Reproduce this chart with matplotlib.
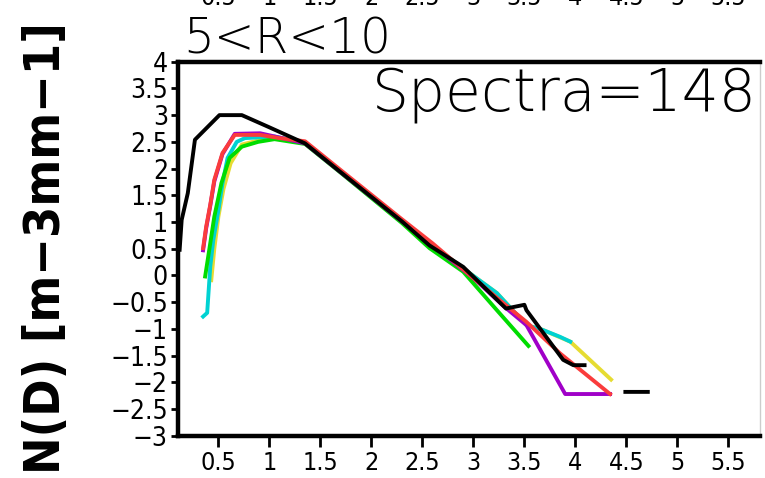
import matplotlib
matplotlib.use("Agg")
import matplotlib.pyplot as plt
from matplotlib import font_manager as fm
from matplotlib.font_manager import FontProperties

nan = float("nan")

# ---------------- data ----------------
title_text = "5<R<10"
count_text = "Spectra=148"
ylabel_text = "N(D) [m\u22123mm\u22121]"

xticks = [0.5, 1, 1.5, 2, 2.5, 3, 3.5, 4, 4.5, 5, 5.5]
xtick_labels = ["0.5", "1", "1.5", "2", "2.5", "3", "3.5", "4", "4.5", "5", "5.5"]
yticks = [4, 3.5, 3, 2.5, 2, 1.5, 1, 0.5, 0, -0.5, -1, -1.5, -2, -2.5, -3]
ytick_labels = ["4", "3.5", "3", "2.5", "2", "1.5", "1", "0.5", "0",
                "\u22120.5", "\u22121", "\u22121.5", "\u22122", "\u22122.5", "\u22123"]

black_d = [0.12, 0.14, 0.20, 0.27, 0.51, 0.73, 0.99, 1.35, 1.70, 2.00, 2.30, 2.57, 2.90,
           3.10, 3.32, 3.50, 3.52, 3.88, 3.98, 4.09, nan, 4.49, 4.71]
black_n = [0.48, 1.04, 1.54, 2.54, 3.00, 3.00, 2.78, 2.47, 1.93, 1.47, 1.01, 0.56, 0.16,
           -0.21, -0.62, -0.55, -0.65, -1.58, -1.68, -1.68, nan, -2.18, -2.18]

red_d = [0.35, 0.38, 0.42, 0.46, 0.54, 0.66, 0.91, 1.10, 1.35, 1.70, 2.00, 2.30, 2.60,
         3.00, 3.25, 3.52, 3.85, 4.34]
red_n = [0.51, 0.91, 1.32, 1.79, 2.29, 2.63, 2.63, 2.57, 2.51, 1.97, 1.51, 1.05, 0.60,
         -0.05, -0.45, -0.87, -1.46, -2.22]

purple_d = [0.35, 0.38, 0.42, 0.46, 0.54, 0.66, 0.91, 1.10, 1.35, 1.70, 2.00, 2.30, 2.60,
            3.00, 3.30, 3.52, 3.90, 4.34]
purple_n = [0.47, 0.88, 1.30, 1.76, 2.27, 2.65, 2.66, 2.58, 2.47, 1.93, 1.47, 1.01, 0.56,
            -0.05, -0.58, -0.93, -2.22, -2.22]

cyan_d = [0.35, 0.39, 0.42, 0.45, 0.50, 0.54, 0.59, 0.68, 0.76, 1.05, 1.35, 1.70, 2.00,
          2.30, 2.60, 2.90, 3.23, 3.52, 3.68, 3.85, 3.95]
cyan_n = [-0.77, -0.70, 0.16, 0.66, 1.22, 1.72, 2.20, 2.50, 2.57, 2.60, 2.48, 1.94, 1.48,
          1.02, 0.56, 0.13, -0.33, -0.93, -1.02, -1.15, -1.24]

yellow_d = [0.43, 0.46, 0.50, 0.55, 0.62, 0.73, 0.90, 1.07, 1.35, 1.70, 2.00, 2.30, 2.60,
            2.90, 3.23, 3.52, 3.68, 3.95, 4.35]
yellow_n = [-0.09, 0.50, 1.10, 1.62, 2.10, 2.45, 2.53, 2.58, 2.48, 1.94, 1.48, 1.02, 0.56,
            0.13, -0.33, -0.93, -1.02, -1.24, -1.95]

green_d = [0.37, 0.40, 0.46, 0.53, 0.61, 0.73, 0.89, 1.05, 1.35, 1.70, 2.00, 2.30, 2.57,
           2.90, 3.23, 3.54]
green_n = [-0.02, 0.35, 1.10, 1.73, 2.20, 2.41, 2.50, 2.55, 2.46, 1.92, 1.45, 0.98, 0.51,
           0.07, -0.65, -1.32]

# ---------------- fonts ----------------
names = {f.name for f in fm.fontManager.ttflist}
has_narrow = "Liberation Sans Narrow" in names
narrow = "Liberation Sans Narrow" if has_narrow else "DejaVu Sans"
stretch = "normal" if has_narrow else "condensed"

def pick_light():
    for fam in ["DejaVu Sans", "Roboto", "Lato", "Open Sans", "Noto Sans", "Inter"]:
        cands = []
        for f in fm.fontManager.ttflist:
            if f.name != fam or f.style != "normal":
                continue
            w = f.weight
            if isinstance(w, str):
                w = {"ultralight": 200, "light": 300, "extra light": 200, "thin": 100}.get(w.lower(), 400)
            if w <= 300 and f.stretch in ("normal", 500, "500"):
                cands.append((w, f.fname))
        if cands:
            cands.sort(reverse=True)
            return FontProperties(fname=cands[-1][1])
    return FontProperties(family="DejaVu Sans", weight="light")

light_fp = pick_light()

# ---------------- figure ----------------
W, H = 765, 478
fig = plt.figure(figsize=(W / 100, H / 100), dpi=100)

def fx(px):
    return px / W

def fy(py):
    return 1 - py / H

ax = fig.add_axes([fx(177.6), fy(435.7), fx(760) - fx(177.6), fy(61.7) - fy(435.7)])
ax.set_xlim(0.1, 5.81)
ax.set_ylim(-3, 4)

lw = 2.8
ax.plot(yellow_d, yellow_n, color="#e6dc32", lw=lw)
ax.plot(cyan_d, cyan_n, color="#00d2d2", lw=lw)
ax.plot(green_d, green_n, color="#00dc00", lw=lw)
ax.plot(purple_d, purple_n, color="#a000c8", lw=lw)
ax.plot(red_d, red_n, color="#fa3c3c", lw=lw)
ax.plot(black_d, black_n, color="black", lw=lw)

for s in ["left", "bottom", "top"]:
    ax.spines[s].set_linewidth(3.2)
    ax.spines[s].set_color("black")
ax.spines["right"].set_linewidth(1.0)
ax.spines["right"].set_color("#cccccc")

ax.set_xticks(xticks)
ax.set_xticklabels(xtick_labels)
ax.set_yticks(yticks)
ax.set_yticklabels(ytick_labels)
ax.tick_params(axis="x", direction="out", length=8, width=2, pad=3,
               labelsize=18, top=False)
ax.tick_params(axis="y", direction="out", length=5, width=2, pad=2,
               labelsize=19, right=False)
for lab in ax.get_xticklabels() + ax.get_yticklabels():
    lab.set_fontfamily(narrow)
    lab.set_fontstretch(stretch)

# title and annotation
fig.text(fx(183), fy(53), title_text, fontproperties=light_fp, fontsize=35,
         ha="left", va="baseline")
ax.text(0.995, 0.87, count_text, transform=ax.transAxes, fontproperties=light_fp,
        fontsize=42, ha="right", va="baseline")

# y label
fig.text(fx(46), fy(248), ylabel_text, rotation=90, ha="center", va="center",
         fontsize=36, family=narrow, fontstretch=stretch, fontweight="bold")

# partially visible tick labels of the panel above
for xv, lab in zip(xticks, xtick_labels):
    xp = ax.transData.transform((xv, 0))[0] / W
    fig.text(xp, fy(5), lab, ha="center", va="baseline", fontsize=18,
             family=narrow, fontstretch=stretch)

fig.savefig("out.png", dpi=100)
